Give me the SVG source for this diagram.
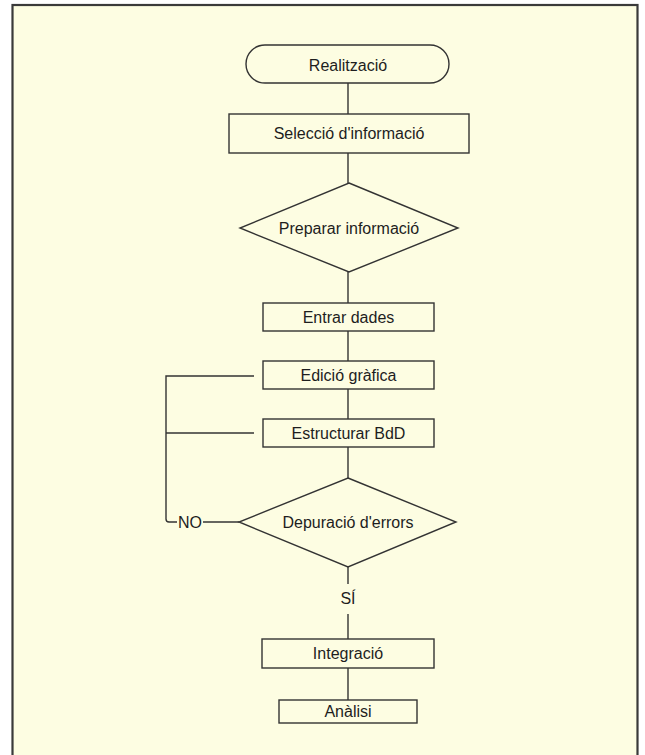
<svg xmlns="http://www.w3.org/2000/svg" width="645" height="755" viewBox="0 0 645 755">
<style>
.shape{fill:none;stroke:#333;stroke-width:1.4}
.edge{fill:none;stroke:#333;stroke-width:1.4}
text{font-family:"Liberation Sans",Arial,sans-serif;font-size:16px;fill:#1e1e1e;text-anchor:middle}
</style>
<rect x="0" y="0" width="645" height="755" fill="#ffffff"/>
<rect id="frame" x="12.5" y="5" width="625" height="760" fill="#fdfde2" stroke="#3a3a3a" stroke-width="2.2"/>
<g id="connectors">
<line class="edge" x1="348" y1="83" x2="348" y2="114"/>
<line class="edge" x1="348" y1="153" x2="348" y2="183"/>
<line class="edge" x1="348" y1="272" x2="348" y2="303"/>
<line class="edge" x1="348" y1="331" x2="348" y2="361"/>
<line class="edge" x1="348" y1="389" x2="348" y2="419"/>
<line class="edge" x1="348" y1="447" x2="348" y2="478"/>
<line class="edge" x1="348" y1="567" x2="348" y2="584"/>
<line class="edge" x1="348" y1="614" x2="348" y2="639"/>
<line class="edge" x1="348" y1="668" x2="348" y2="700"/>
<line class="edge" x1="239" y1="522" x2="203" y2="522"/>
<path class="edge" d="M177 522 H169 Q166 522 166 519 V376 H254"/>
<line class="edge" x1="166" y1="433" x2="254" y2="433"/>
<text x="190" y="528">NO</text>
<text x="348" y="604">SÍ</text>
</g>
<g id="realitzacio">
<rect class="shape" x="246" y="45" width="203" height="38" rx="19"/>
<text x="348" y="70.5">Realització</text>
</g>
<g id="seleccio">
<rect class="shape" x="229" y="114" width="240" height="39"/>
<text x="349" y="139">Selecció d'informació</text>
</g>
<g id="preparar">
<polygon class="shape" points="349,183 458,228 349,272 240,228"/>
<text x="349" y="233.5">Preparar informació</text>
</g>
<g id="entrar">
<rect class="shape" x="263" y="303" width="171" height="28"/>
<text x="348.5" y="322.5">Entrar dades</text>
</g>
<g id="edicio">
<rect class="shape" x="263" y="361" width="171" height="28"/>
<text x="348.5" y="380.5">Edició gràfica</text>
</g>
<g id="estructurar">
<rect class="shape" x="263" y="419" width="171" height="28"/>
<text x="348.5" y="438.5">Estructurar BdD</text>
</g>
<g id="depuracio">
<polygon class="shape" points="348,478 456,522 348,567 239,522"/>
<text x="348" y="528">Depuració d'errors</text>
</g>
<g id="integracio">
<rect class="shape" x="262" y="639" width="172" height="29"/>
<text x="348" y="659">Integració</text>
</g>
<g id="analisi">
<rect class="shape" x="279" y="700" width="138" height="23"/>
<text x="348" y="717">Anàlisi</text>
</g>
</svg>
